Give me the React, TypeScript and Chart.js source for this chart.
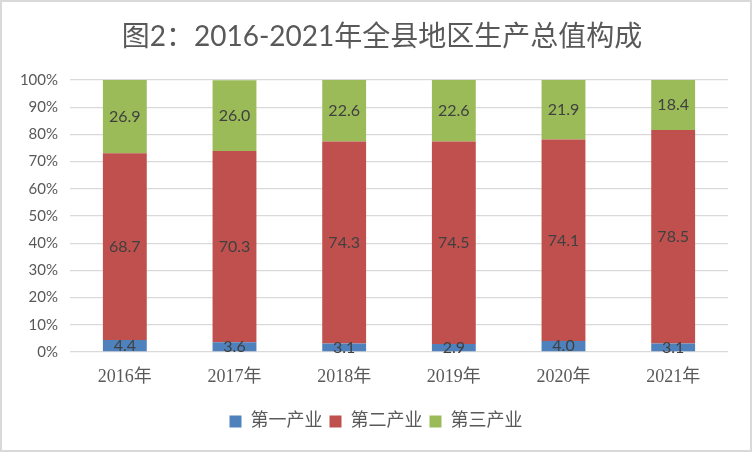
import React, { useEffect, useRef } from "react";
import { Chart, registerables } from "chart.js";

Chart.register(...registerables);

const titleText = "图2：2016-2021年全县地区生产总值构成";
const categories = ["2016年", "2017年", "2018年", "2019年", "2020年", "2021年"];
const seriesNames = ["第一产业", "第二产业", "第三产业"];
const primary = [4.4, 3.6, 3.1, 2.9, 4.0, 3.1];
const secondary = [68.7, 70.3, 74.3, 74.5, 74.1, 78.5];
const tertiary = [26.9, 26.0, 22.6, 22.6, 21.9, 18.4];
const seriesColors = ["#4F81BD", "#C0504D", "#9BBB59"];

const SANS = "Lato, 'Noto Sans CJK SC', sans-serif";
const SERIF = "'Liberation Serif', 'Noto Sans CJK SC', serif";

const framePlugin = {
  id: "frame",
  afterLayout(chart: any) {
    const lg = chart.legend;
    if (lg) {
      lg.left = 12;
      lg.right = chart.width - 12;
    }
  },
  beforeDraw(chart: any) {
    const { ctx, width, height } = chart;
    ctx.save();
    ctx.fillStyle = "#ffffff";
    ctx.fillRect(0, 0, width, height);
    ctx.restore();
  },
  afterDraw(chart: any) {
    const { ctx, width, height } = chart;
    ctx.save();
    ctx.strokeStyle = "#d9d9d9";
    ctx.lineWidth = 2;
    ctx.strokeRect(1, 1, width - 2, height - 2);
    ctx.fillStyle = "#595959";
    ctx.font = `28px ${SANS}`;
    ctx.textAlign = "center";
    ctx.textBaseline = "middle";
    ctx.fillText(titleText, width / 2 + 6, 37);
    ctx.restore();
  },
};

const segLabelPlugin = {
  id: "segLabels",
  afterDatasetsDraw(chart: any) {
    const ctx = chart.ctx;
    ctx.save();
    ctx.font = `16px ${SANS}`;
    ctx.fillStyle = "#404040";
    ctx.textAlign = "center";
    ctx.textBaseline = "middle";
    chart.data.datasets.forEach((ds: any, i: number) => {
      const meta = chart.getDatasetMeta(i);
      meta.data.forEach((el: any, j: number) => {
        const p = el.getProps(["x", "y", "base"], true);
        ctx.fillText(Number(ds.data[j]).toFixed(1), p.x, (p.y + p.base) / 2);
      });
    });
    ctx.restore();
  },
};

export default function App() {
  const ref = useRef<HTMLCanvasElement | null>(null);

  useEffect(() => {
    document.body.style.margin = "0";
    if (!ref.current) return;
    const seriesData = [primary, secondary, tertiary];
    const chart = new Chart(ref.current, {
      type: "bar",
      data: {
        labels: categories,
        datasets: seriesNames.map((name, i) => ({
          label: name,
          data: seriesData[i],
          backgroundColor: seriesColors[i],
          borderWidth: 0,
          categoryPercentage: 1,
          barPercentage: 0.4,
        })),
      },
      options: {
        responsive: false,
        animation: false,
        devicePixelRatio: 1,
        layout: { padding: { left: 0, right: 24, top: 80, bottom: 11.5 } },
        plugins: {
          title: { display: false },
          legend: {
            position: "bottom",
            labels: {
              boxWidth: 12,
              boxHeight: 12,
              padding: 7,
              color: "#595959",
              font: { family: SERIF, size: 18 },
            },
          },
          tooltip: { enabled: false },
        },
        scales: {
          x: {
            stacked: true,
            grid: { display: false, drawTicks: false },
            border: { display: false },
            ticks: {
              color: "#595959",
              font: { family: SERIF, size: 18 },
              padding: 14,
            },
            afterFit: (scale: any) => {
              scale.height = 53.5;
            },
          },
          y: {
            stacked: true,
            min: 0,
            max: 100,
            grid: { color: "#d9d9d9", lineWidth: 1.3, drawTicks: false },
            border: { display: false },
            ticks: {
              stepSize: 10,
              color: "#595959",
              font: { family: SANS, size: 15 },
              padding: 12,
              callback: (v: any) => `${v}%`,
            },
            afterFit: (scale: any) => {
              scale.width = 70;
            },
          },
        },
      },
      plugins: [framePlugin, segLabelPlugin],
    });
    return () => chart.destroy();
  }, []);

  return (
    <div style={{ position: "absolute", left: 0, top: 0, width: 752, height: 452 }}>
      <canvas ref={ref} width={752} height={452} />
    </div>
  );
}
